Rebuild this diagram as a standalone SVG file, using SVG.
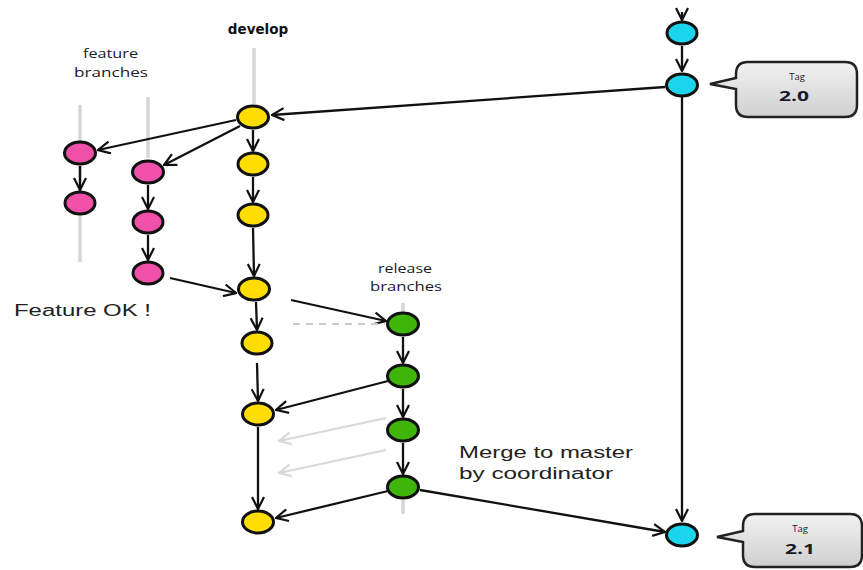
<svg xmlns="http://www.w3.org/2000/svg" width="863" height="570" viewBox="0 0 863 570">
<defs>
<style>
.lane{stroke:#d6d6d6;stroke-width:3.5;fill:none}
.c{stroke:#111;stroke-width:2.3;fill:none}
.g{stroke:#d8d8d8;stroke-width:2.3;fill:none}
.n{stroke:#111;stroke-width:3}
.y{fill:#ffdd00}.p{fill:#f050a8}.gr{fill:#3fb50a}.b{fill:#1ad5ec}
.t{font-family:"Liberation Sans",Arial,sans-serif;fill:#222}
.s{font-family:"Open Sans","DejaVu Sans",sans-serif;fill:#1a1a2a}
.tag{fill:url(#tg);stroke:#222;stroke-width:2.5}
</style>
<linearGradient id="tg" x1="0" y1="0" x2="0" y2="1">
<stop offset="0" stop-color="#f2f2f2"/>
<stop offset="1" stop-color="#cfcfcf"/>
</linearGradient>
<marker id="a" viewBox="0 0 14 14" refX="13" refY="7" markerWidth="14" markerHeight="14" markerUnits="userSpaceOnUse" orient="auto">
<path d="M1,1 L13,7 L1,13" fill="none" stroke="#111" stroke-width="2.2"/>
</marker>
<marker id="ag" viewBox="0 0 14 14" refX="13" refY="7" markerWidth="14" markerHeight="14" markerUnits="userSpaceOnUse" orient="auto">
<path d="M1,1 L13,7 L1,13" fill="none" stroke="#d8d8d8" stroke-width="2.2"/>
</marker>
</defs>
<rect width="863" height="570" fill="#fff"/>
<g id="lanes">
<line class="lane" x1="254" y1="48" x2="254" y2="104"/>
<line class="lane" x1="80" y1="105" x2="80" y2="262"/>
<line class="lane" x1="148" y1="97" x2="148" y2="158"/>
<line class="lane" x1="403" y1="303" x2="403" y2="312"/>
<line class="lane" x1="403" y1="500" x2="403" y2="514"/>
</g>
<g id="connectors">
<line class="c" x1="682" y1="12" x2="682" y2="20" marker-end="url(#a)"/>
<line class="c" x1="682" y1="46" x2="682" y2="71" marker-end="url(#a)"/>
<line class="c" x1="665" y1="87" x2="272" y2="115" marker-end="url(#a)"/>
<line class="c" x1="682" y1="97" x2="682" y2="521" marker-end="url(#a)"/>
<line class="c" x1="236" y1="120" x2="98" y2="150" marker-end="url(#a)"/>
<line class="c" x1="240" y1="126" x2="164" y2="165" marker-end="url(#a)"/>
<line class="c" x1="253" y1="130" x2="253" y2="151" marker-end="url(#a)"/>
<line class="c" x1="253" y1="177" x2="253" y2="202" marker-end="url(#a)"/>
<line class="c" x1="253" y1="228" x2="254" y2="276" marker-end="url(#a)"/>
<line class="c" x1="80" y1="166" x2="80" y2="190" marker-end="url(#a)"/>
<line class="c" x1="148" y1="185" x2="148" y2="209" marker-end="url(#a)"/>
<line class="c" x1="148" y1="235" x2="148" y2="260" marker-end="url(#a)"/>
<line class="c" x1="170" y1="278" x2="236" y2="293" marker-end="url(#a)"/>
<line class="c" x1="291" y1="300" x2="386" y2="321" marker-end="url(#a)"/>
<line x1="293" y1="324" x2="385" y2="324" stroke="#ccc" stroke-width="2" stroke-dasharray="7,6"/>
<line class="c" x1="256" y1="302" x2="257" y2="330" marker-end="url(#a)"/>
<line class="c" x1="257" y1="363" x2="258" y2="401" marker-end="url(#a)"/>
<line class="c" x1="258" y1="427" x2="258" y2="509" marker-end="url(#a)"/>
<line class="c" x1="403" y1="337" x2="403" y2="363" marker-end="url(#a)"/>
<line class="c" x1="403" y1="389" x2="403" y2="417" marker-end="url(#a)"/>
<line class="c" x1="403" y1="443" x2="403" y2="474" marker-end="url(#a)"/>
<line class="c" x1="388" y1="381" x2="276" y2="410" marker-end="url(#a)"/>
<line class="g" x1="386" y1="418" x2="279" y2="441" marker-end="url(#ag)"/>
<line class="g" x1="386" y1="450" x2="279" y2="473" marker-end="url(#ag)"/>
<line class="c" x1="388" y1="491" x2="276" y2="518" marker-end="url(#a)"/>
<line class="c" x1="420" y1="490" x2="665" y2="532" marker-end="url(#a)"/>
</g>
<g id="develop-nodes">
<ellipse id="d1" class="n y" cx="253" cy="117" rx="15.5" ry="11"/>
<ellipse id="d2" class="n y" cx="253" cy="164" rx="15" ry="11"/>
<ellipse id="d3" class="n y" cx="253" cy="215" rx="15" ry="11"/>
<ellipse id="d4" class="n y" cx="254" cy="289" rx="15.5" ry="11"/>
<ellipse id="d5" class="n y" cx="257" cy="343" rx="15" ry="11"/>
<ellipse id="d6" class="n y" cx="258" cy="414" rx="15.5" ry="11"/>
<ellipse id="d7" class="n y" cx="258" cy="522" rx="15.5" ry="11"/>
</g>
<g id="feature-nodes">
<ellipse id="f1a" class="n p" cx="80" cy="153" rx="15.5" ry="11"/>
<ellipse id="f1b" class="n p" cx="80" cy="203" rx="15" ry="11"/>
<ellipse id="f2a" class="n p" cx="148" cy="172" rx="15.5" ry="11"/>
<ellipse id="f2b" class="n p" cx="148" cy="222" rx="15" ry="11"/>
<ellipse id="f2c" class="n p" cx="148" cy="273" rx="15" ry="11"/>
</g>
<g id="release-nodes">
<ellipse id="r1" class="n gr" cx="403" cy="324" rx="15.5" ry="11"/>
<ellipse id="r2" class="n gr" cx="403" cy="376" rx="15.5" ry="11"/>
<ellipse id="r3" class="n gr" cx="403" cy="430" rx="15.5" ry="11"/>
<ellipse id="r4" class="n gr" cx="403" cy="487" rx="15.5" ry="11"/>
</g>
<g id="master-nodes">
<ellipse id="m0" class="n b" cx="682" cy="33" rx="15" ry="11"/>
<ellipse id="m1" class="n b" cx="682" cy="85" rx="15.5" ry="11"/>
<ellipse id="m2" class="n b" cx="682" cy="535" rx="15.5" ry="11"/>
</g>
<g id="tag20">
<path class="tag" d="M748,62 H845 Q857,62 857,74 V105 Q857,117 845,117 H748 Q736,117 736,105 V89 L710,84 L736,78 V74 Q736,62 748,62 Z"/>
<text class="s" x="797" y="80" font-size="9.5" text-anchor="middle">Tag</text>
<text class="s" x="794" y="101" font-size="15" font-weight="bold" text-anchor="middle" fill="#111" textLength="30" lengthAdjust="spacingAndGlyphs">2.0</text>
</g>
<g id="tag21">
<path class="tag" d="M755,514 H850 Q862,514 862,526 V555 Q862,567 850,567 H755 Q743,567 743,555 V542 L717,537 L743,531 V526 Q743,514 755,514 Z"/>
<text class="s" x="800" y="532" font-size="9.5" text-anchor="middle">Tag</text>
<text class="s" x="800" y="554" font-size="15" font-weight="bold" text-anchor="middle" fill="#111" textLength="30" lengthAdjust="spacingAndGlyphs">2.1</text>
</g>
<g id="labels">
<text x="258" y="34" font-family="'DejaVu Sans',sans-serif" font-size="13.5" font-weight="bold" text-anchor="middle" fill="#111">develop</text>
<text class="s" x="110.5" y="58" font-size="13" text-anchor="middle" textLength="55" lengthAdjust="spacingAndGlyphs">feature</text>
<text class="s" x="111" y="77" font-size="13" text-anchor="middle" textLength="74" lengthAdjust="spacingAndGlyphs">branches</text>
<text class="s" x="405" y="273" font-size="13" text-anchor="middle" textLength="54" lengthAdjust="spacingAndGlyphs">release</text>
<text class="s" x="406" y="291" font-size="13" text-anchor="middle" textLength="72" lengthAdjust="spacingAndGlyphs">branches</text>
<text class="t" x="14" y="316" font-size="16" textLength="137" lengthAdjust="spacingAndGlyphs">Feature OK !</text>
<text class="t" x="459" y="458" font-size="16" textLength="174" lengthAdjust="spacingAndGlyphs">Merge to master</text>
<text class="t" x="459" y="479" font-size="16" textLength="154" lengthAdjust="spacingAndGlyphs">by coordinator</text>
</g>
</svg>
